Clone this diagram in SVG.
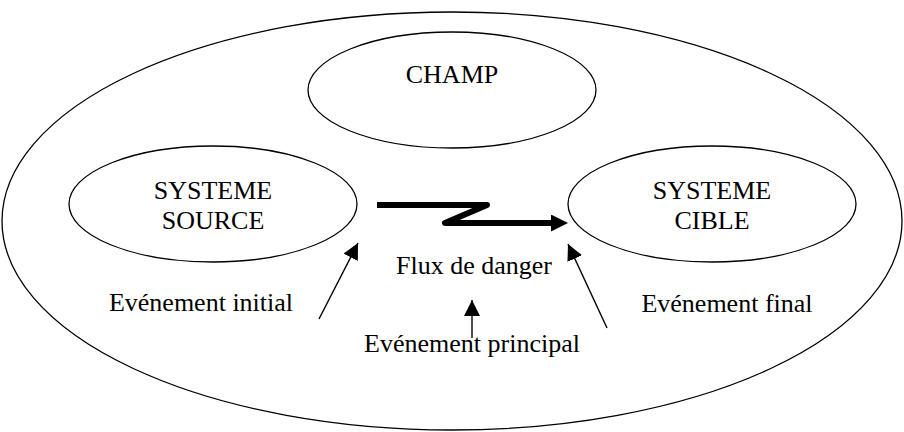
<svg xmlns="http://www.w3.org/2000/svg" width="904" height="432" viewBox="0 0 904 432">
<style>
  .shape { fill: none; stroke: #000; stroke-width: 1.3; }
  .label { font-family: "Liberation Serif", "Times New Roman", serif; font-size: 26px; fill: #000; text-anchor: middle; }
  .thin { fill: none; stroke: #000; stroke-width: 1.4; }
  .thick { fill: none; stroke: #000; stroke-width: 6; stroke-linejoin: round; }
</style>
<defs>
  <marker id="ah" markerUnits="userSpaceOnUse" markerWidth="17" markerHeight="16" refX="16" refY="8" orient="auto">
    <path d="M0,0 L16,8 L0,16 z" fill="#000"/>
  </marker>
  <marker id="ahThick" markerUnits="userSpaceOnUse" markerWidth="18" markerHeight="17" refX="0" refY="8.5" orient="auto">
    <path d="M0,0 L17,8.5 L0,17 z" fill="#000"/>
  </marker>
</defs>
<rect width="904" height="432" fill="#fff"/>
<g id="champ-global">
  <ellipse class="shape" cx="452" cy="221" rx="450" ry="209"/>
</g>
<g id="champ">
  <ellipse class="shape" cx="452" cy="90" rx="144" ry="58"/>
  <text class="label" x="452" y="83">CHAMP</text>
</g>
<g id="systeme-source">
  <ellipse class="shape" cx="213" cy="204" rx="144" ry="58"/>
  <text class="label" x="213" y="199">SYSTEME</text>
  <text class="label" x="213" y="229">SOURCE</text>
</g>
<g id="systeme-cible">
  <ellipse class="shape" cx="712" cy="204" rx="144" ry="58"/>
  <text class="label" x="712" y="199">SYSTEME</text>
  <text class="label" x="712" y="229">CIBLE</text>
</g>
<g id="flux-label">
  <text class="label" x="474" y="274">Flux de danger</text>
</g>
<g id="evenement-initial">
  <text class="label" x="201" y="311">Evénement initial</text>
</g>
<g id="evenement-final">
  <text class="label" x="727" y="312">Evénement final</text>
</g>
<g id="evenement-principal">
  <text class="label" x="472" y="352">Evénement principal</text>
</g>
<g id="connectors">
  <path class="thick" d="M377,205 L487,205 L445,223 L551,223" marker-end="url(#ahThick)"/>
  <line class="thin" x1="319" y1="319" x2="358" y2="243" marker-end="url(#ah)"/>
  <line class="thin" x1="607" y1="328" x2="568" y2="244" marker-end="url(#ah)"/>
  <line class="thin" x1="472" y1="338" x2="472" y2="300" marker-end="url(#ah)"/>
</g>
</svg>
